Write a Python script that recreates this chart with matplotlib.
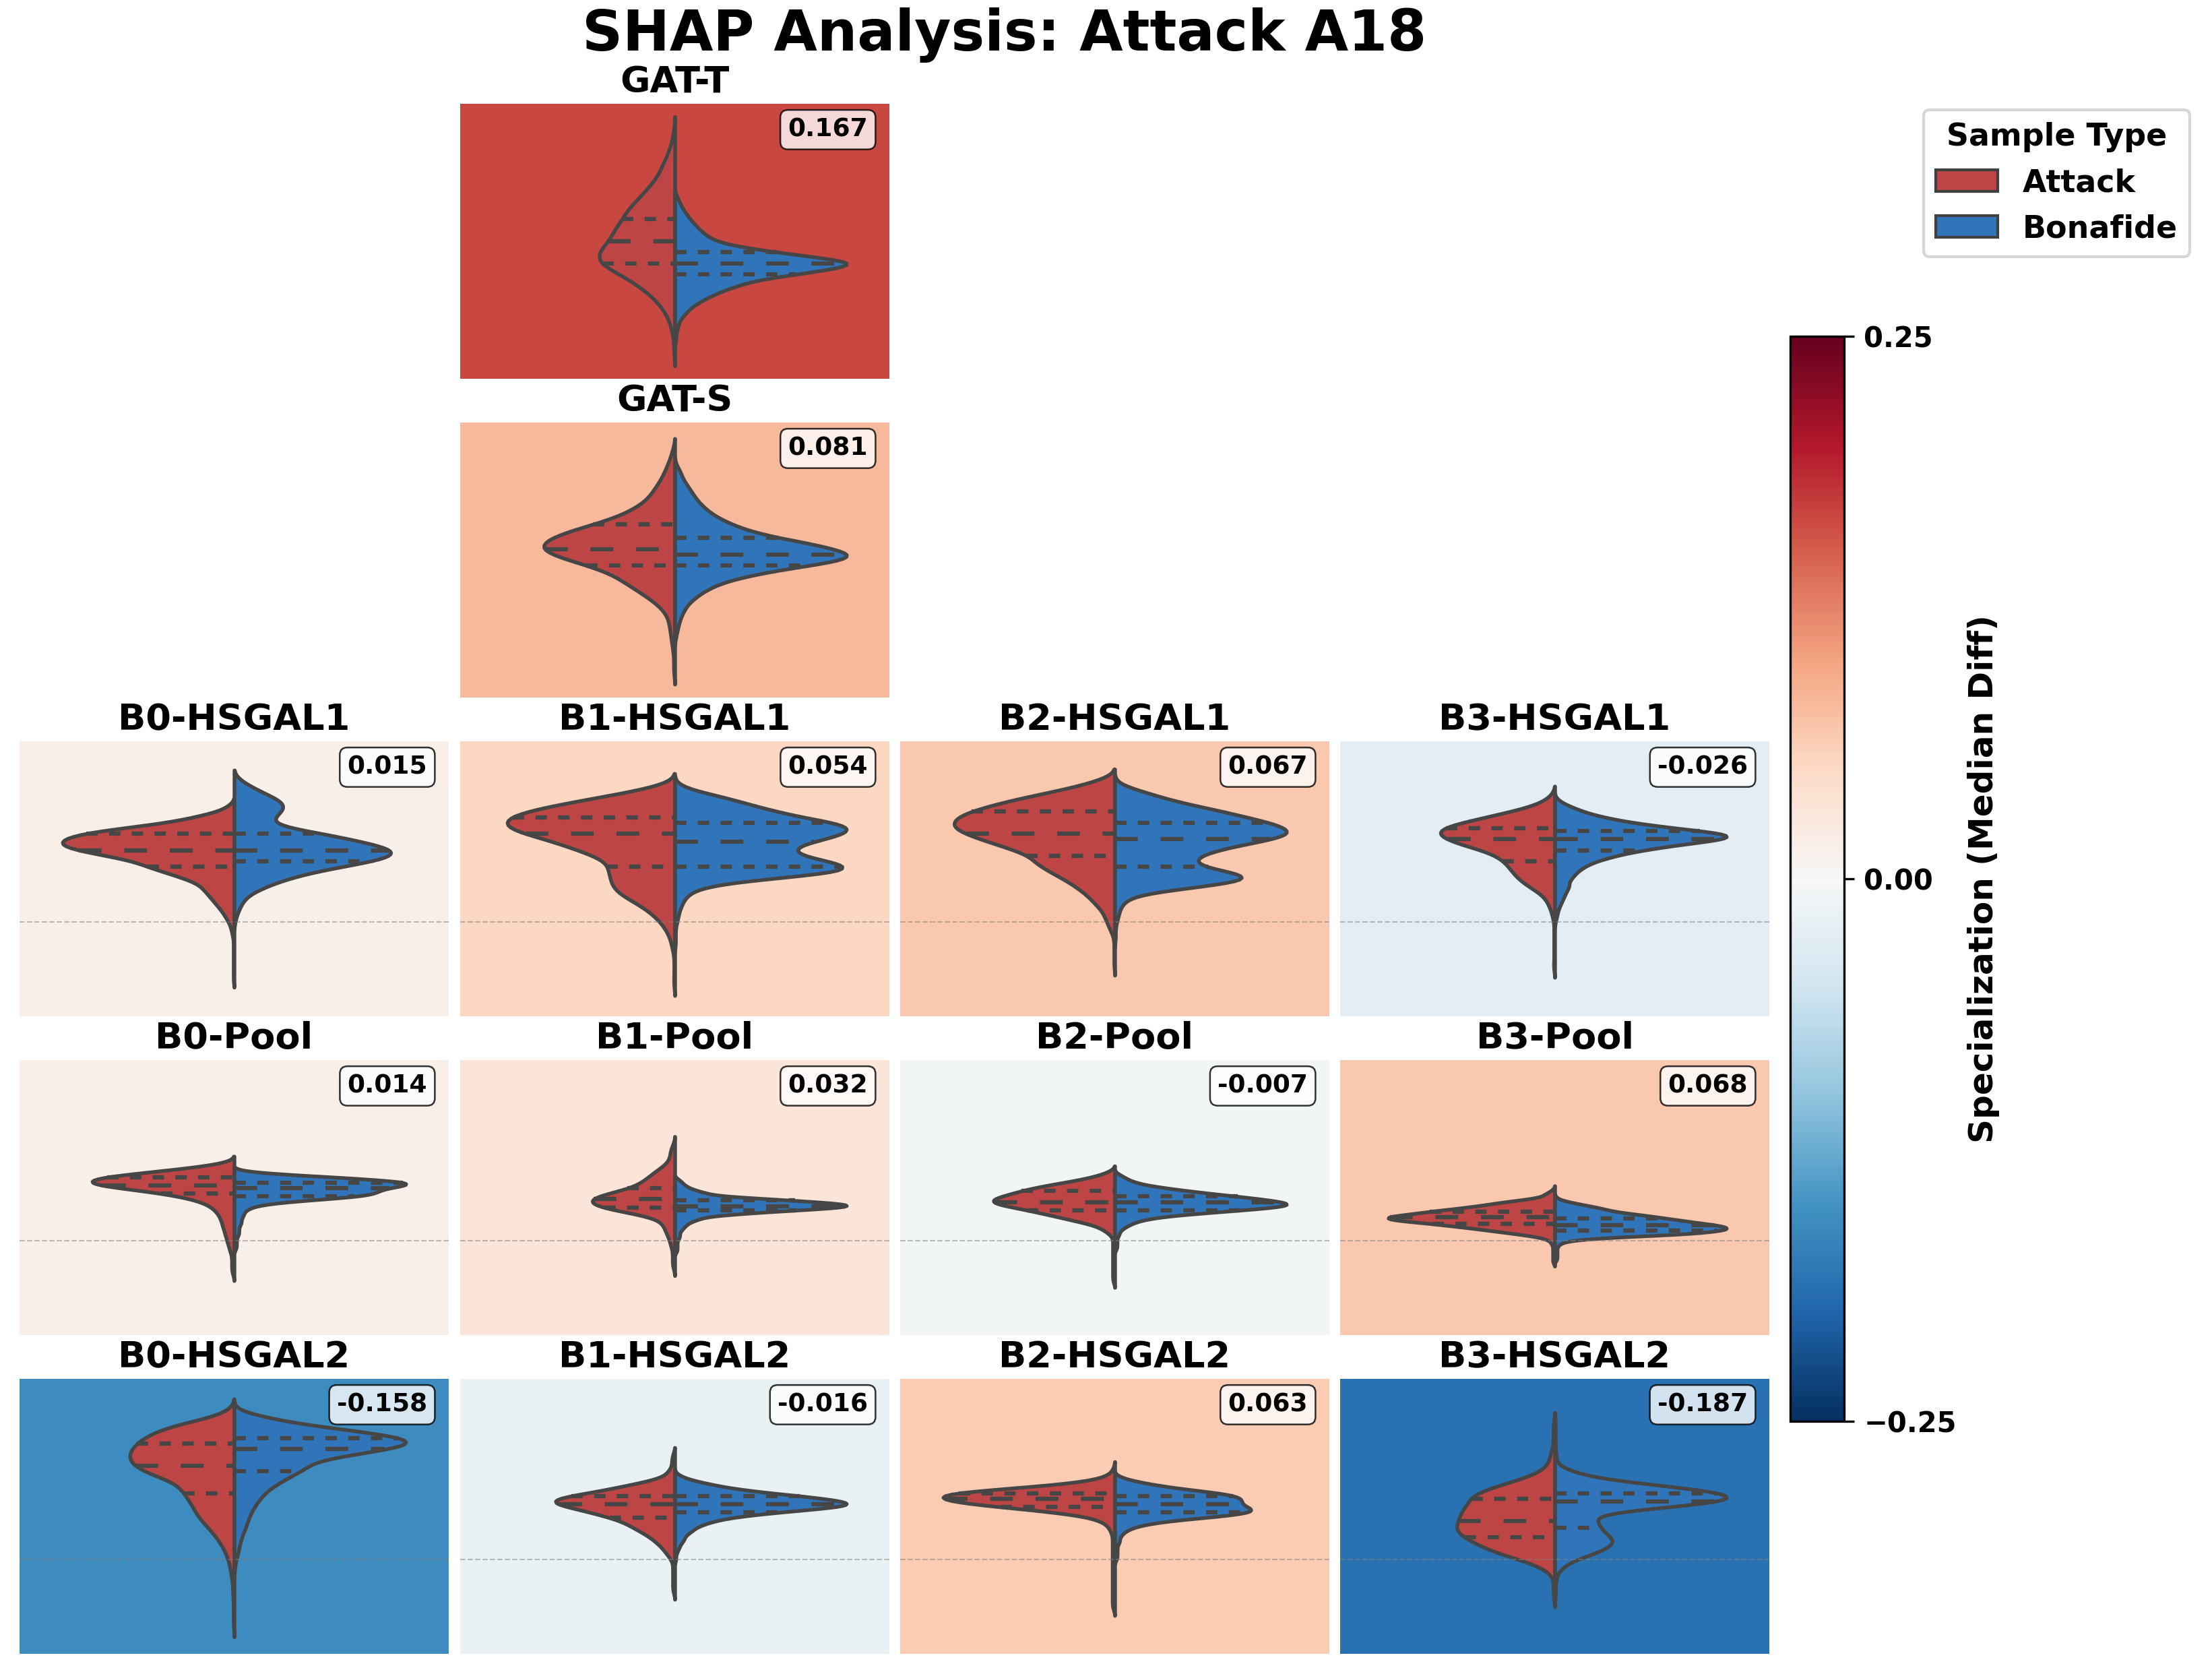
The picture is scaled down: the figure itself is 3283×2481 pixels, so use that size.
import numpy as np
import pandas as pd
import matplotlib
matplotlib.use('Agg')
import matplotlib.pyplot as plt
from matplotlib.patches import Patch
import seaborn as sns

gat_t_attack = [(130,1),(126,3),(122,6),(118,11),(114,15),(110,23),(106,32),(102,42),(98,48),(94,55),(90,60),
                (86,70),(82,70),(78,50),(74,34),(70,21),(66,12),(62,6),(58,3),(54,1),(50,1)]
gat_t_bonafide = [(106,2),(104,4),(102,6),(100,9),(98,12),(96,16),(94,20),(92,25),(90,32),(88,50),(86,80),(84,115),
                  (82,145),(80,125),(78,95),(76,65),(74,50),(72,38),(70,28),(68,20),(66,13),(64,9),(62,5),(60,3),
                  (58,2),(56,1),(54,1)]
gat_s_attack = [(130,2),(127,4),(124,7),(121,10),(118,14),(115,19),(112,24),(109,34),(106,48),(103,70),(100,95),
                (97,112),(94,117),(91,100),(88,75),(85,55),(82,44),(79,33),(76,22),(73,13),(70,7),(67,5),(64,4),
                (61,3),(58,2),(55,1),(52,1),(49,1)]
gat_s_bonafide = [(124,2),(122,5),(120,6),(118,9),(116,12),(114,15),(112,18),(110,22),(108,27),(106,33),(104,42),
                  (102,52),(100,66),(98,85),(96,112),(94,130),(92,148),(90,140),(88,110),(86,80),(84,58),(82,40),
                  (80,30),(78,22),(76,16),(74,11),(72,8),(70,6),(68,4),(66,3),(64,2),(62,1)]

b0_hsgal1_attack = [(42,5),(40,14),(38,35),(36,57),(34,98),(32,132),(30,148),(28,151),(26,136),(24,110),(22,86),
                    (20,75),(18,60),(16,45),(14,32),(12,27),(10,23),(8,19),(6,15),(4,11),(2,8),(0,5),(-2,3),(-4,2),
                    (-6,1),(-9,1),(-12,1),(-15,1),(-18,1),(-21,1)]
b0_hsgal1_bonafide = [(52,4),(50,11),(48,20),(46,30),(44,40),(42,44),(40,41),(38,35),(36,33),(34,48),(32,77),
                      (30,100),(28,122),(26,138),(24,138),(22,120),(20,93),(18,68),(16,50),(14,35),(12,24),(10,14),
                      (8,9),(6,6),(4,4),(2,2),(0,1)]
b1_hsgal1_attack = [(50,8),(48,28),(46,52),(44,78),(42,102),(40,123),(38,137),(36,140),(34,138),(32,123),(30,106),
                    (28,92),(26,79),(24,67),(22,56),(20,55),(18,54),(16,53),(14,52),(12,50),(10,45),(8,37),(6,29),
                    (4,22),(2,17),(0,12),(-2,9),(-4,6),(-6,4),(-8,3),(-10,2),(-12,1),(-15,1),(-18,1),(-21,1),(-23,1)]
b1_hsgal1_bonafide = [(50,3),(48,14),(46,34),(44,52),(42,68),(40,86),(38,106),(36,134),(34,148),(32,142),(30,125),
                      (28,106),(26,99),(24,106),(22,128),(20,147),(18,138),(16,88),(14,42),(12,20),(10,12),(8,8),
                      (6,6),(4,4),(2,3),(0,2),(-2,1),(-5,1),(-8,1)]
b2_hsgal1_attack = [(52,10),(50,25),(48,45),(46,68),(44,90),(42,108),(40,124),(38,135),(36,139),(34,138),(32,128),
                    (30,115),(28,100),(26,86),(24,72),(22,70),(20,63),(18,55),(16,46),(14,38),(12,31),(10,25),(8,20),
                    (6,16),(4,11),(2,9),(0,7),(-2,5),(-4,3),(-7,1),(-10,1),(-13,1),(-16,1)]
b2_hsgal1_bonafide = [(50,4),(48,18),(46,33),(44,48),(42,68),(40,90),(38,108),(36,128),(34,141),(32,146),(30,130),
                      (28,105),(26,84),(24,70),(22,65),(20,71),(18,96),(16,115),(14,95),(12,55),(10,20),(8,10),
                      (6,6),(4,4),(2,3),(0,2),(-3,1),(-6,1)]
b3_hsgal1_attack = [(46,3),(44,8),(42,18),(40,36),(38,55),(36,75),(34,91),(32,95),(30,87),(28,75),(26,58),(24,47),
                    (22,41),(20,37),(18,34),(16,30),(14,25),(12,18),(10,11),(8,7),(6,5),(4,3),(2,2),(0,1),(-3,1),
                    (-6,1),(-9,1),(-12,1),(-15,1),(-17,1)]
b3_hsgal1_bonafide = [(44,2),(43,3),(42,6),(41,9),(40,11),(39,15),(38,19),(37,25),(36,30),(35,39),(34,48),(33,58),
                      (32,70),(31,75),(30,70),(29,58),(28,50),(27,42),(26,35),(25,29),(24,24),(23,21),(22,16),(21,14),
                      (20,12),(19,10),(18,9),(17,8),(16,7),(15,6),(14,6),(12.5,11),(10.5,9),(8.5,7),(6.5,5),(4.5,3),
                      (2.5,2),(0.5,1)]

b0_pool_attack = [(28,4),(27,12),(26,22),(25,33),(24,45),(23,55),(22,61),(21,63),(20,57),(19,46),(18,37),(17,28),
                  (16,22),(15,17),(14,13),(13,11),(12,9),(11,8),(10,7),(9,6),(8,6),(7,5),(6,5),(5,5),(4,4),(3,4),
                  (2,4),(1,3),(0,3),(-1,3),(-2,2),(-3,2),(-4,2),(-5,1),(-6,1),(-7,1),(-8,1),(-9,1),(-10,1),(-11,1),
                  (-12,1)]
b0_pool_bonafide = [(25,5),(24,20),(23,42),(22,60),(21,74),(20,71),(19,62),(18,59),(17,58),(16,52),(15,36),(14,21),
                    (13,11),(12,7),(11,5),(10,4),(9,4),(8,3),(7,3),(6,3),(5,2),(4,2),(3,2),(2,2),(1,1),(0,1),(-1,1),
                    (-2,1),(-3,1)]
b1_pool_attack = [(35,1),(34,1),(33,2),(32,2),(31,2),(30,2),(29,3),(28,3),(27,5),(26,7),(25,8),(24,10),(23,11),
                  (22,13),(21,14),(20,16),(19,19),(18,23),(17,29),(16,33),(15,36),(14,37),(13,35),(12,31),(11,26),
                  (10,19),(9,12),(8,8),(7,6),(6,5),(5,5),(4,4),(3,4),(2,3),(1,3),(0,2),(-1,2),(-2,2),(-3,1),(-4,1),
                  (-5,1),(-6,1),(-7,1),(-8,1),(-9,1),(-10,1)]
b1_pool_bonafide = [(22,2),(21,3),(20,4),(19,6),(18,9),(17,14),(16,12),(15.5,15),(15,19),(14.5,24),(14,29),
                    (13.5,32),(13,36),(12.5,37),(12,34),(11.5,29),(11,24),(10.5,19),(10,15),(9.5,11),(9,10),(8,11),
                    (7,7),(6,5),(5,4),(4,3),(3,2),(2,2),(1,2),(0,1),(-1,1),(-2,1),(-3,1),(-4,1)]
b2_pool_attack = [(25,3),(24,6),(23,11),(22,17),(21,25),(20,33),(19,40),(18,45),(17,50),(16,54),(15,60),(14,60),
                  (13,57),(12,48),(11,42),(10,36),(9,30),(8,24),(7,19),(6,12),(5,8),(4,6),(3,4),(2,2),(1,1),(0,1),
                  (-1,1),(-2,1),(-3,1),(-4,1),(-5,1),(-6,1),(-7,1),(-8,1),(-9,1),(-10,1),(-11,1),(-12,1),(-13,1),
                  (-14,1),(-15,1)]
b2_pool_bonafide = [(24,2),(23,4),(22,6),(21,9),(20,14),(19,22),(18,31),(17,41),(16,52),(15,62),(14,71),(13,75),
                    (12,68),(11,53),(10,38),(9,24),(8,15),(7,10),(6,7),(5,5),(4,3),(3,2),(2,2),(1,1),(0,1),(-1,1),
                    (-2,1),(-3,1)]
b3_pool_attack = [(18.5,1),(17.5,3),(16.5,6),(15.5,5),(15,7),(14.5,9),(14,13),(13.5,15),(13,17),(12.5,19),(12,22),
                  (11.5,25),(11,28),(10.5,32),(10,33),(9.5,36),(9,40),(8.5,43),(8,43),(7.5,41),(7,38),(6.5,33),
                  (6,30),(5.5,27),(5,24),(4.5,21),(4,18),(3.5,16),(3,13),(2.5,10),(2,8),(1.5,5),(1,3),(0.5,2),
                  (0,2),(-1,2),(-2,1),(-3,1),(-4,1),(-5,1),(-6,1),(-7,1),(-8,1)]
b3_pool_bonafide = [(15.5,1),(14.5,2),(14,3),(13.5,4),(13,6),(12.5,7),(12,9),(11.5,10),(11,11),(10.5,12),(10,14),
                    (9.5,17),(9,19),(8.5,21),(8,23),(7.5,25),(7,27),(6.5,29),(6,31),(5.5,34),(5,35),(4.5,36),(4,36),
                    (3.5,34),(3,31),(2.5,29),(2,25),(1.5,15),(1,10),(0.5,6),(0,3),(-0.5,2),(-1,1),(-1.5,1),(-2,1),
                    (-3,1),(-4,1),(-5,1),(-6,1),(-7,1)]

b0_hsgal2_attack = [(54,5),(52,13),(50,38),(48,58),(46,68),(44,77),(42,83),(40,87),(38,89),(36,89),(34,85),(32,78),
                    (30,64),(28,50),(26,45),(24,43),(22,39),(20,36),(18,34),(16,31),(14,28),(12,23),(10,19),(8,15),
                    (6,12),(4,9),(2,7),(0,5),(-2,4),(-4,3),(-6,3),(-9,2),(-12,2),(-15,1),(-18,1),(-21,1),(-24,1)]
b0_hsgal2_bonafide = [(54,3),(52,23),(50,42),(48,73),(46,112),(44,140),(42,148),(40,125),(38,95),(36,68),(34,60),
                      (32,55),(30,45),(28,38),(26,30),(24,25),(22,21),(20,18),(18,15),(16,13),(14,11),(12,10),(10,8),
                      (8,6),(6,5),(4,4),(2,3),(0,2),(-3,1)]
b1_hsgal2_attack = [(38,2),(36,3),(34,3),(32,5),(31,3),(30,5),(29,9),(28,15),(27,22),(26,28),(25,34),(24,42),(23,50),
                    (22,58),(21,61),(20,57),(19,51),(18,45),(17,40),(16,35),(15,30),(14,26),(13,23),(12,21),(11,19),
                    (10,16),(9,14),(8,12),(7,10),(6,9),(5,7),(4,6),(3,5),(2,4),(1,3),(0,2),(-1,1),(-2,1),(-3,1),
                    (-4,1),(-5,1),(-6,1),(-7,1),(-8,1),(-9,1),(-10,1),(-11,1),(-12,1)]
b1_hsgal2_bonafide = [(31,1),(30,3),(29,6),(28,11),(27,16),(26,22),(25,30),(24,40),(23,52),(22,62),(21,70),(20,74),
                      (19,68),(18,55),(17,42),(16,31),(15,22),(14,17),(13,13),(12,10),(11,8),(10,7),(9,5),(8,4),(7,4),
                      (6,3),(5,2),(4,2),(3,1),(2,1),(0,1)]
b2_hsgal2_attack = [(33,1),(32,1),(31,2),(30,4),(29,7),(28,14),(27,25),(26,40),(25,56),(24,71),(23,75),(22,74),
                    (21,69),(20,60),(19,48),(18,35),(17,24),(16,15),(15,9),(14,6),(13,4),(12,3),(11,2),(10,2),(9,1),
                    (8,1),(7,1),(6,1),(5,1),(4,1),(3,1),(2,1),(1,1),(0,1),(-1,1),(-2,1),(-3,1),(-4,1),(-5,1),(-6,1),
                    (-7,1),(-8,1),(-9,1),(-10,1),(-11,1),(-12,1),(-13,1),(-14,1),(-15,1),(-16,1),(-17,1),(-18,1)]
b2_hsgal2_bonafide = [(30,2),(29,5),(28,10),(27,16),(26,23),(25,32),(24,42),(23,48),(22,50),(21,50),(20,50),(19,52),
                      (18,55),(17,54),(16,46),(15,34),(14,22),(13,14),(12,9),(11,6),(10,4),(9,3),(8,2),(7,2),(6,2),
                      (5,1),(4,1),(3,1),(2,1),(1,1),(0,1)]
b3_hsgal2_attack = [(50,1),(48,1),(46,1),(44,1),(42,1),(40,2),(38,3),(36,4),(34,5),(32,10),(30,18),(28,31),
                    (26,43),(24,54),(22,58),(20,60),(18,63),(16,65),(14,66),(12,68),(10,67),(8,63),(6,55),(4,48),
                    (2,38),(0,25),(-2,14),(-4,6),(-6,2),(-8,1),(-10,1),(-12,1),(-14,1)]
b3_hsgal2_bonafide = [(50,1),(46,1),(42,1),(38,2),(35,2),(33,5),(32,7),(31,10),(30,14),(29,20),(28,31),(27,40),
                      (26,52),(25,62),(24,69),(23,73),(22,75),(21,69),(20,60),(19,47),(18,31),(17,22),(16,18),(15,15),
                      (13.5,34),(11.5,37),(9.5,41),(7.5,47),(5.5,48),(3.5,40),(1.5,29),(-0.5,15),(-2.5,8),(-4.5,3),
                      (-7,2),(-10,1),(-13,1)]

layers = ['GAT-T', 'GAT-S',
          'B0-HSGAL1', 'B1-HSGAL1', 'B2-HSGAL1', 'B3-HSGAL1',
          'B0-Pool', 'B1-Pool', 'B2-Pool', 'B3-Pool',
          'B0-HSGAL2', 'B1-HSGAL2', 'B2-HSGAL2', 'B3-HSGAL2']
median_diff = [0.167, 0.081,
               0.015, 0.054, 0.067, -0.026,
               0.014, 0.032, -0.007, 0.068,
               -0.158, -0.016, 0.063, -0.187]
attack = [gat_t_attack, gat_s_attack,
          b0_hsgal1_attack, b1_hsgal1_attack, b2_hsgal1_attack, b3_hsgal1_attack,
          b0_pool_attack, b1_pool_attack, b2_pool_attack, b3_pool_attack,
          b0_hsgal2_attack, b1_hsgal2_attack, b2_hsgal2_attack, b3_hsgal2_attack]
bonafide = [gat_t_bonafide, gat_s_bonafide,
            b0_hsgal1_bonafide, b1_hsgal1_bonafide, b2_hsgal1_bonafide, b3_hsgal1_bonafide,
            b0_pool_bonafide, b1_pool_bonafide, b2_pool_bonafide, b3_pool_bonafide,
            b0_hsgal2_bonafide, b1_hsgal2_bonafide, b2_hsgal2_bonafide, b3_hsgal2_bonafide]
# grid slot (row, col) of each layer
slots = [(0, 1), (1, 1),
         (2, 0), (2, 1), (2, 2), (2, 3),
         (3, 0), (3, 1), (3, 2), (3, 3),
         (4, 0), (4, 1), (4, 2), (4, 3)]

RED = '#be4545'
BLUE = '#3075ba'
palette = {'Attack': RED, 'Bonafide': BLUE}
cmap = plt.get_cmap('RdBu_r')
norm = plt.Normalize(-0.25, 0.25)

W, H = 3283, 2481
fig = plt.figure(figsize=(W / 300, H / 300), dpi=300)

col_x = [29, 683, 1336, 1989]
row_y = [154, 627, 1100, 1573, 2046]
pw, ph = 637, 408


def expand(pairs):
    vals = np.array([p[0] for p in pairs], dtype=float)
    cnts = np.array([p[1] for p in pairs], dtype=int)
    return np.repeat(vals, cnts)


for name, diff, att, bon, (r, c) in zip(layers, median_diff, attack, bonafide, slots):
    ax = fig.add_axes([col_x[c] / W, 1 - (row_y[r] + ph) / H, pw / W, ph / H])
    a = expand(att)
    b = expand(bon)
    df = pd.DataFrame({'layer': name,
                       'shap': np.concatenate([a, b]),
                       'type': ['Attack'] * len(a) + ['Bonafide'] * len(b)})
    sns.violinplot(data=df, x='layer', y='shap', hue='type', hue_order=['Attack', 'Bonafide'],
                   split=True, inner='quart', palette=palette, saturation=1, bw_adjust=0.7,
                   common_norm=True, linewidth=1.3, legend=False, ax=ax)
    # quartile dashes: short for Q1/Q3, long for the median
    for i, ln in enumerate(ax.lines):
        ln.set_linewidth(1.5)
        ln.set_dashes([5.4, 5.4] if i % 3 == 1 else [2.7, 2.7])
    ax.set_facecolor(cmap(norm(diff)))
    ax.axhline(0, color='gray', linestyle='--', linewidth=0.5, alpha=0.5)
    if r < 2:
        ax.set_ylim(40, 140)
    else:
        ax.set_ylim(-34.4, 65.6)
    ax.set_xlim(-0.5, 0.5)
    ax.set_title(name, fontsize=13, fontweight='bold', pad=4)
    ax.set_xticks([])
    ax.set_yticks([])
    ax.set_xlabel('')
    ax.set_ylabel('')
    for s in ax.spines.values():
        s.set_visible(False)
    ax.text(0.95, 0.95, f'{diff:.3f}', transform=ax.transAxes, ha='right', va='top',
            fontsize=9, fontweight='bold',
            bbox=dict(boxstyle='round,pad=0.3', facecolor='white', alpha=0.8, linewidth=0.6))

# colorbar
cax = fig.add_axes([2657 / W, 1 - 2109 / H, 80 / W, (2109 - 499) / H])
sm = plt.cm.ScalarMappable(cmap=cmap, norm=norm)
cb = fig.colorbar(sm, cax=cax)
cb.set_ticks([-0.25, 0, 0.25])
cb.set_label('Specialization (Median Diff)', fontsize=12, fontweight='bold')
for t in cb.ax.get_yticklabels():
    t.set_fontweight('bold')
    t.set_fontsize(10)

# legend
handles = [Patch(facecolor=RED, edgecolor='#404040', label='Attack'),
           Patch(facecolor=BLUE, edgecolor='#404040', label='Bonafide')]
fig.legend(handles=handles, title='Sample Type', loc='upper right',
           bbox_to_anchor=(3250 / W, 1 - 163 / H), borderaxespad=0,
           prop={'weight': 'bold', 'size': 11}, title_fontproperties={'weight': 'bold', 'size': 11})

fig.text(0.454, 0.979, 'SHAP Analysis: Attack A18', ha='center', va='center',
         fontsize=20, fontweight='bold')

fig.savefig('out.png', dpi=300)
